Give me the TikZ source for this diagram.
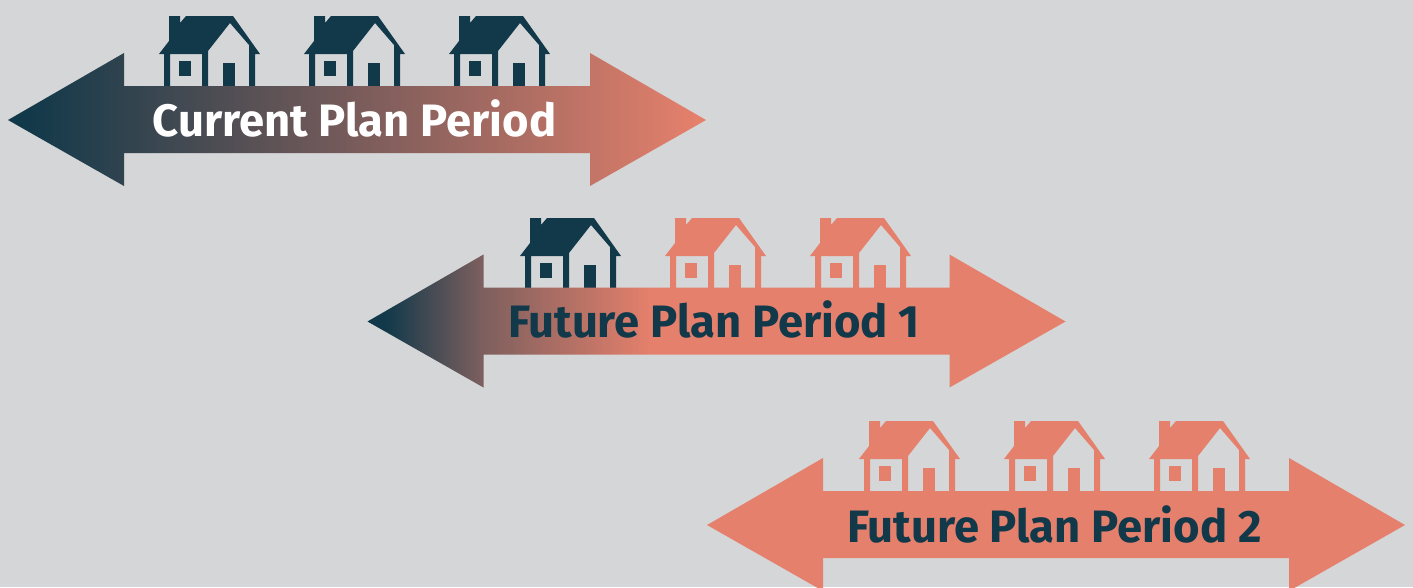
\documentclass[tikz,border=0pt]{standalone}
\usepackage{fontspec}
\setmainfont{Fira Sans}
\definecolor{bgc}{HTML}{D5D6D8}
\definecolor{navy}{HTML}{12394A}
\definecolor{salm}{HTML}{E5806C}
\definecolor{midb}{HTML}{7D5F5E}
\pgfdeclarehorizontalshading{gradA}{100bp}{color(0bp)=(navy); color(26.5bp)=(navy); color(74.5bp)=(salm); color(100bp)=(salm)}
\pgfdeclarehorizontalshading{gradB}{100bp}{color(0bp)=(navy); color(26.3bp)=(navy); color(33.2bp)=(midb); color(45.3bp)=(salm); color(100bp)=(salm)}
\tikzset{
  x=1pt,y=-1pt,
  lbl/.style={font=\fontsize{45.4}{46}\bfseries\selectfont,inner sep=0pt,anchor=base},
  pics/house/.style={code={
    \fill[#1]
      (169,16)--(180,16)--(180,23)--(186,16)--(233,16)--(260,54)--(255,54)--(255,87)--(249,87)--(249,45)--(230,23)--(208,51)--(208,87)--(202,87)--(202,54)--(170,54)--(170,87)--(164,87)--(164,54)--(159,54)--(169,41)--cycle;
    \fill[#1] (179,61) rectangle (191,76);
    \fill[#1] (223,63) rectangle (235,87);
  }}
}
\newcommand{\arrowpath}{(8,120)--(124,53)--(124,86)--(590,86)--(590,53)--(706,120)--(590,186)--(590,153)--(124,153)--(124,186)--cycle}
\begin{document}
\begin{tikzpicture}
\useasboundingbox (0,0) rectangle (1413,587);
\clip (0,0) rectangle (1413,587);
\fill[bgc] (0,0) rectangle (1413,587);
% row 1
\foreach \d in {0,145,290} \pic at (\d,0) {house=navy};
\shade[shading=gradA] \arrowpath;
\node[lbl,text=white] (t1) at (354.5,136) {Current Plan Period};
% row 2
\pic at (361,202) {house=navy};
\pic at (506,202) {house=salm};
\pic at (651,202) {house=salm};
\begin{scope}[shift={(359.5,201.5)}]
\shade[shading=gradB] \arrowpath;
\end{scope}
\node[lbl,text=navy] (t2) at (714,337) {Future Plan Period 1};
% row 3
\foreach \d in {700,845,990} \pic at (\d,405) {house=salm};
\begin{scope}[shift={(699,405)}]
\fill[salm] \arrowpath;
\end{scope}
\node[lbl,text=navy] (t3) at (1054.5,542) {Future Plan Period 2};
\end{tikzpicture}
\end{document}
